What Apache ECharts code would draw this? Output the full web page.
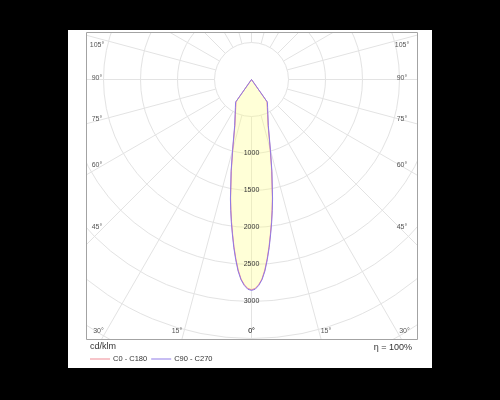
<!DOCTYPE html>
<html>
<head>
<meta charset="UTF-8">
<title>Polar diagram</title>
<style>
  * { margin: 0; padding: 0; }
  body { background: #000; }
  #main { width: 500px; height: 400px; }
</style>
<script src="https://cdn.jsdelivr.net/npm/echarts@6/dist/echarts.min.js"></script>
</head>
<body>
<div id="main"></div>
<script>
// gamma angles (deg from nadir) and intensities in cd/klm
var angles = [0, 1, 2, 3, 4, 5, 6, 7, 8, 9, 10, 12.5, 15, 20, 25, 30, 35, 40, 45, 60, 90, 120, 150, 180];
var c0c180 = [2840, 2825, 2775, 2700, 2580, 2430, 2270, 2100, 1940, 1780, 1625, 1260, 975, 655, 515, 425, 365, 0, 0, 0, 0, 0, 0, 0];
var c90c270 = [2850, 2835, 2785, 2710, 2595, 2445, 2285, 2115, 1955, 1795, 1640, 1275, 990, 665, 525, 435, 375, 0, 0, 0, 0, 0, 0, 0];
var ringLabels = [1000, 1500, 2000, 2500, 3000];
var sideTicks = [105, 90, 75, 60, 45];
var bottomTicks = [30, 15, 0];

// geometry of the drawing
var cx = 251.5, cy = 79.5;
var L = 86, T = 32, R = 417, B = 339;
var rMax = 4500, rPx = 333;
var innerPx = rPx * 500 / rMax;

function loop(vals) {
  var out = [];
  for (var i = 0; i < angles.length; i++) out.push([vals[i], angles[i]]);
  for (var j = angles.length - 1; j >= 0; j--) out.push([vals[j], 360 - angles[j]]);
  return out;
}

var grey = '#e3e3e3';
var font = 'Liberation Sans, Arial';
var graphics = [];
// covers outside the frame
[[0, 0, 500, T], [0, B, 500, 400 - B], [0, T, L, B - T], [R, T, 500 - R, B - T]].forEach(function (r) {
  graphics.push({ type: 'rect', z: 100, shape: { x: r[0], y: r[1], width: r[2], height: r[3] }, style: { fill: '#fff' } });
});
[[0, 0, 500, 30], [0, 368, 500, 32], [0, 0, 68, 400], [432, 0, 68, 400]].forEach(function (r) {
  graphics.push({ type: 'rect', z: 101, shape: { x: r[0], y: r[1], width: r[2], height: r[3] }, style: { fill: '#000' } });
});
graphics.push({ type: 'rect', z: 102, shape: { x: L + 0.5, y: T + 0.5, width: R - L, height: B - T }, style: { fill: null, stroke: '#a3a3a3', lineWidth: 1 } });

var lblStyle = { fontSize: 7, fill: '#555', fontFamily: font, align: 'center', verticalAlign: 'middle' };
sideTicks.forEach(function (a) {
  var y = cy + 148 / Math.tan(a * Math.PI / 180);
  if (a === 90) y = cy - 1;
  y = Math.max(y, 45);
  [97, 402].forEach(function (x) {
    graphics.push({ type: 'text', z: 103, x: x, y: y, style: Object.assign({ text: a + '°' }, lblStyle) });
  });
});
bottomTicks.forEach(function (a) {
  var d = Math.min(278 * Math.tan(a * Math.PI / 180), 153);
  [cx - d, cx + d].forEach(function (x) {
    graphics.push({ type: 'text', z: 103, x: x, y: 331, style: Object.assign({ text: a + '°' }, lblStyle) });
  });
});
graphics.push({ type: 'text', z: 103, x: 90, y: 347, style: { text: 'cd/klm', fontSize: 9, fill: '#333', fontFamily: font, verticalAlign: 'middle' } });
graphics.push({ type: 'text', z: 103, x: 412, y: 348, style: { text: 'η = 100%', fontSize: 9, fill: '#333', fontFamily: font, align: 'right', verticalAlign: 'middle' } });

var myChart = echarts.init(document.getElementById('main'));
var option = {
  backgroundColor: '#fff',
  animation: false,
  polar: [
    { center: [cx, cy], radius: rPx },
    { center: [cx, cy], radius: [innerPx, rPx] }
  ],
  angleAxis: [
    { polarIndex: 0, type: 'value', min: 0, max: 360, startAngle: 270, show: false },
    {
      polarIndex: 1, type: 'value', min: 0, max: 360, interval: 15, startAngle: 270,
      axisLine: { show: false }, axisTick: { show: false }, axisLabel: { show: false },
      splitLine: { show: true, lineStyle: { color: grey, width: 1 } }
    }
  ],
  radiusAxis: [
    {
      polarIndex: 0, type: 'value', min: 0, max: rMax, interval: 500, z: 5,
      axisLine: { show: false }, axisTick: { show: false }, splitLine: { show: false },
      axisLabel: {
        margin: 0, align: 'center', verticalAlign: 'middle', fontSize: 7, color: '#333',
        fontFamily: font,
        formatter: function (v) { return ringLabels.indexOf(v) >= 0 ? String(v) : ''; }
      }
    },
    {
      polarIndex: 1, type: 'value', min: 500, max: rMax, interval: 500,
      axisLine: { show: false }, axisTick: { show: false }, axisLabel: { show: false },
      splitLine: { show: true, lineStyle: { color: grey, width: 1 } }
    }
  ],
  legend: {
    z: 110, left: 90, top: 355, padding: 0, itemWidth: 20, itemHeight: 1, itemGap: 4,
    icon: 'rect',
    textStyle: { fontSize: 7.5, color: '#333', fontFamily: font, padding: [0, 0, 0, -2] },
    data: ['C0 - C180', 'C90 - C270']
  },
  graphic: graphics,
  series: [
    {
      name: 'C0 - C180', type: 'line', coordinateSystem: 'polar', polarIndex: 0,
      symbol: 'none', data: loop(c0c180),
      itemStyle: { color: '#ef8a94' },
      lineStyle: { color: '#ef8a94', width: 1 },
      areaStyle: { color: 'rgba(255,255,130,0.45)' }
    },
    {
      name: 'C90 - C270', type: 'line', coordinateSystem: 'polar', polarIndex: 0,
      symbol: 'none', data: loop(c90c270),
      itemStyle: { color: '#8f7ae6' },
      lineStyle: { color: '#8f7ae6', width: 1 }
    }
  ]
};
myChart.setOption(option);
</script>
</body>
</html>
